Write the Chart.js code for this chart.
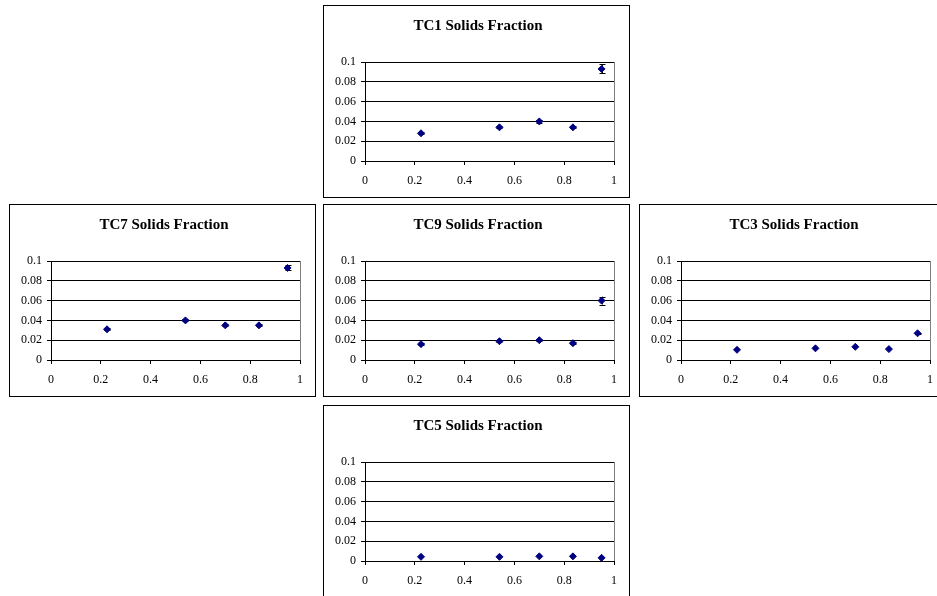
<!DOCTYPE html>
<html><head><meta charset="utf-8">
<script src="https://cdn.jsdelivr.net/npm/chart.js@4.4.0/dist/chart.umd.min.js"></script>
<style>
html,body{margin:0;padding:0;background:#fff;width:937px;height:596px;overflow:hidden;position:relative;}
.panel{position:absolute;box-sizing:border-box;border:1px solid #000;width:307px;height:193px;background:#fff;overflow:hidden;}
.panel canvas{position:absolute;left:0;top:0;}
</style></head><body>
<div class="panel" style="left:323px;top:5px"><canvas id="c1" width="305" height="191"></canvas></div>
<div class="panel" style="left:9px;top:204px"><canvas id="c7" width="305" height="191"></canvas></div>
<div class="panel" style="left:323px;top:204px"><canvas id="c9" width="305" height="191"></canvas></div>
<div class="panel" style="left:639px;top:204px"><canvas id="c3" width="305" height="191"></canvas></div>
<div class="panel" style="left:323px;top:405px"><canvas id="c5" width="305" height="191"></canvas></div>
<script>
// shared radial positions (x)
const xPositions = [0.225, 0.54, 0.70, 0.835, 0.95];

const tc1Values = [0.028, 0.034, 0.040, 0.034, 0.093];
const tc1Errors = [0.001, 0.001, 0.0015, 0.001, 0.0045];

const tc7Values = [0.031, 0.040, 0.035, 0.035, 0.093];
const tc7Errors = [0.001, 0.001, 0.001, 0.001, 0.0025];

const tc9Values = [0.016, 0.019, 0.020, 0.017, 0.060];
const tc9Errors = [0.001, 0.001, 0.001, 0.001, 0.004];

const tc3Values = [0.0103, 0.0118, 0.0133, 0.0110, 0.027];
const tc3Errors = [0, 0, 0, 0, 0.0005];

const tc5Values = [0.0042, 0.0042, 0.0047, 0.0047, 0.0032];
const tc5Errors = [0, 0, 0, 0, 0];

const panelTitles = ["TC1 Solids Fraction", "TC7 Solids Fraction", "TC9 Solids Fraction", "TC3 Solids Fraction", "TC5 Solids Fraction"];
const xTickStep = 0.2, xMin = 0, xMax = 1;
const yTickStep = 0.02, yMin = 0, yMax = 0.1;

const errorBarPlugin = {
  id: 'errorBars',
  beforeDatasetsDraw(chart) {
    const ctx = chart.ctx, a = chart.chartArea;
    ctx.save();
    // plot area right border (grey)
    ctx.strokeStyle = '#808080';
    ctx.lineWidth = 1;
    ctx.beginPath();
    ctx.moveTo(Math.round(a.right) + 0.5, a.top);
    ctx.lineTo(Math.round(a.right) + 0.5, a.bottom);
    ctx.stroke();
    const ys = chart.scales.y, xs = chart.scales.x;
    chart.data.datasets.forEach(ds => {
      const errs = ds.errors || [];
      ds.data.forEach((p, i) => {
        const e = errs[i];
        if (!e) return;
        const x = Math.round(xs.getPixelForValue(p.x)) + 0.5;
        const y1 = ys.getPixelForValue(p.y + e), y2 = ys.getPixelForValue(p.y - e);
        ctx.strokeStyle = '#000';
        ctx.beginPath();
        ctx.moveTo(x, y1); ctx.lineTo(x, y2);
        ctx.moveTo(x - 3, Math.round(y1) + 0.5); ctx.lineTo(x + 3, Math.round(y1) + 0.5);
        ctx.moveTo(x - 3, Math.round(y2) + 0.5); ctx.lineTo(x + 3, Math.round(y2) + 0.5);
        ctx.stroke();
      });
    });
    ctx.restore();
  }
};

const fmt = v => String(+(+v).toFixed(2));

function makeChart(id, title, values, errors) {
  new Chart(document.getElementById(id), {
    type: 'scatter',
    data: {
      datasets: [{
        data: xPositions.map((x, i) => ({x: x, y: values[i]})),
        errors: errors,
        pointStyle: 'rectRot',
        pointRadius: 3.5,
        pointBackgroundColor: '#000080',
        pointBorderColor: '#000080',
        pointBorderWidth: 1,
        showLine: false
      }]
    },
    options: {
      responsive: false,
      animation: false,
      events: [],
      layout: {padding: {left: 3, right: 0, top: 0, bottom: 0}},
      plugins: {
        legend: {display: false},
        tooltip: {enabled: false},
        title: {
          display: true, text: title, color: '#000',
          font: {family: 'Liberation Serif', size: 15, weight: 'bold', lineHeight: 1.2},
          padding: {top: 11, bottom: 27}
        }
      },
      scales: {
        x: {
          type: 'linear', min: xMin, max: xMax,
          ticks: {stepSize: xTickStep, color: '#000', font: {family: 'Liberation Serif', size: 12}, padding: 9, maxRotation: 0, autoSkip: false, callback: fmt},
          grid: {drawOnChartArea: false, drawTicks: true, tickLength: 4, color: '#000'},
          border: {display: true, color: '#000'},
          afterFit: s => { s.height = 36; }
        },
        y: {
          type: 'linear', min: yMin, max: yMax,
          ticks: {stepSize: yTickStep, color: '#000', font: {family: 'Liberation Serif', size: 12}, padding: 5, callback: fmt},
          grid: {color: '#000', drawTicks: true, tickLength: 4},
          border: {display: true, color: '#000'},
          afterFit: s => { s.width = 38; }
        },
        yRightSpace: {
          type: 'linear', position: 'right', min: yMin, max: yMax,
          ticks: {display: false},
          grid: {display: false},
          border: {display: false},
          afterFit: s => { s.width = 15; }
        }
      }
    },
    plugins: [errorBarPlugin]
  });
}

makeChart('c1', panelTitles[0], tc1Values, tc1Errors);
makeChart('c7', panelTitles[1], tc7Values, tc7Errors);
makeChart('c9', panelTitles[2], tc9Values, tc9Errors);
makeChart('c3', panelTitles[3], tc3Values, tc3Errors);
makeChart('c5', panelTitles[4], tc5Values, tc5Errors);
</script>
</body></html>
